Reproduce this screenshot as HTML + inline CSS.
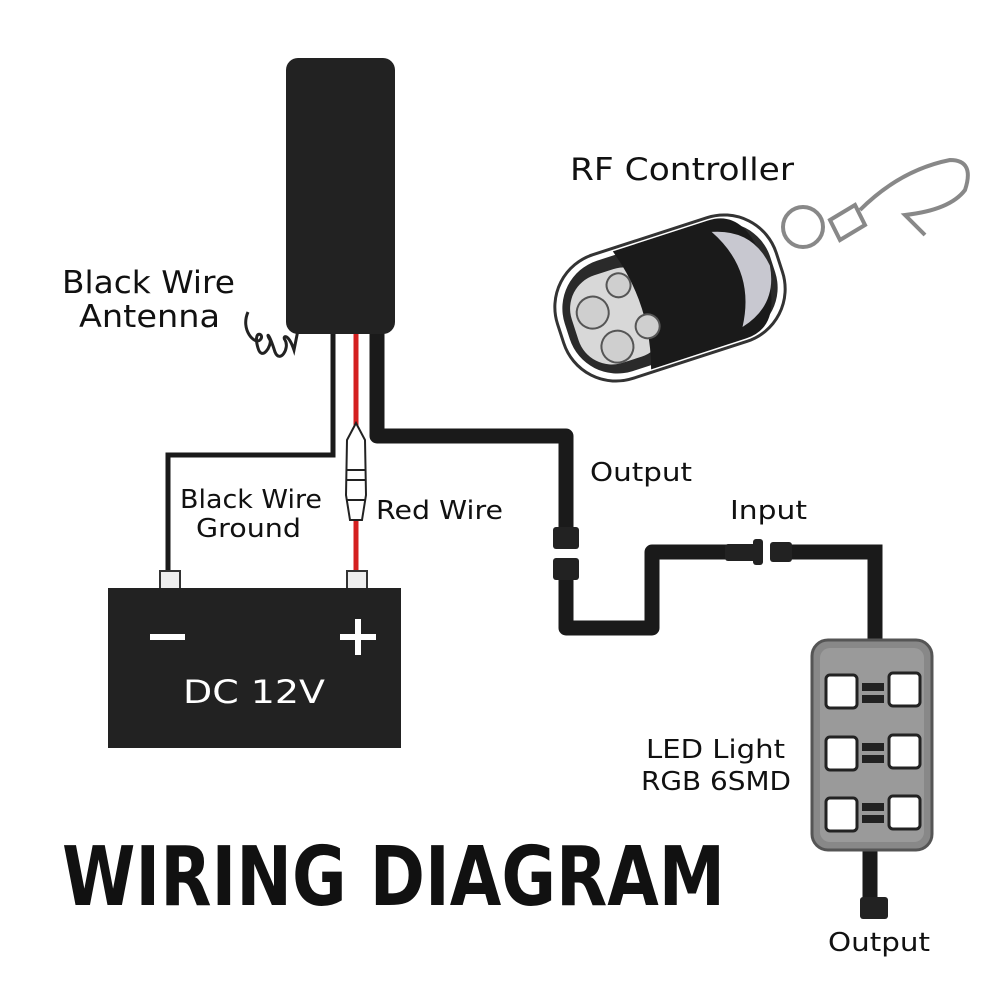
<!DOCTYPE html>
<html><head><style>html,body{margin:0;padding:0;background:#fff}svg{display:block}text{font-family:"DejaVu Sans","Liberation Sans",sans-serif}</style></head>
<body>
<svg width="1001" height="1001" viewBox="0 0 1001 1001" xmlns="http://www.w3.org/2000/svg">
<rect width="1001" height="1001" fill="#fff"/>
<!-- antenna coil -->
<path d="M248 312 C240 330,255 345,260 340 C266 334,252 328,258 348 C262 362,272 345,270 340 C266 334,268 330,275 352 C280 364,290 348,285 340 C282 336,288 332,294 350 L298 330" fill="none" stroke="#222" stroke-width="3"/>
<!-- ground wire -->
<path d="M333 330 V455 H168 V575" fill="none" stroke="#1a1a1a" stroke-width="5"/>
<!-- red wire -->
<path d="M356 330 V575" fill="none" stroke="#d42020" stroke-width="5"/>
<!-- fuse -->
<path d="M356 423 L347 440 L346 495 L350 520 L362 520 L366 495 L365 440 Z" fill="#fff" stroke="#222" stroke-width="2"/>
<line x1="346" y1="470" x2="366" y2="470" stroke="#222" stroke-width="2"/>
<line x1="346" y1="480" x2="366" y2="480" stroke="#222" stroke-width="2"/>
<line x1="347" y1="500" x2="365" y2="500" stroke="#222" stroke-width="2"/>
<!-- output cable -->
<path d="M377 330 V436 H566 V530" fill="none" stroke="#1a1a1a" stroke-width="15" stroke-linejoin="round"/>
<path d="M566 560 V628 H652 V552 H735" fill="none" stroke="#1a1a1a" stroke-width="15" stroke-linejoin="round"/>
<path d="M790 552 H875 V640" fill="none" stroke="#1a1a1a" stroke-width="15"/>
<rect x="553" y="527" width="26" height="22" rx="3" fill="#222"/>
<rect x="553" y="558" width="26" height="22" rx="3" fill="#222"/>
<rect x="725" y="544" width="32" height="17" rx="3" fill="#222"/>
<rect x="753" y="539" width="10" height="26" rx="3" fill="#222"/>
<rect x="770" y="542" width="22" height="20" rx="3" fill="#222"/>
<!-- controller box -->
<rect x="286" y="58" width="109" height="276" rx="12" fill="#222"/>
<!-- battery -->
<rect x="160" y="571" width="20" height="20" fill="#eee" stroke="#333" stroke-width="2"/>
<rect x="347" y="571" width="20" height="20" fill="#eee" stroke="#333" stroke-width="2"/>
<rect x="108" y="588" width="293" height="160" fill="#222"/>
<rect x="150" y="634" width="35" height="6" fill="#fff"/>
<rect x="340" y="634" width="36" height="6" fill="#fff"/>
<rect x="355" y="619" width="6" height="36" fill="#fff"/>
<text x="183" y="703" font-size="32" fill="#fff" textLength="142" lengthAdjust="spacingAndGlyphs">DC  12V</text>
<!-- LED module -->
<path d="M870 848 V900" stroke="#1a1a1a" stroke-width="15"/>
<rect x="860" y="897" width="28" height="22" rx="3" fill="#222"/>
<rect x="812" y="640" width="120" height="210" rx="16" fill="#888" stroke="#555" stroke-width="3"/>
<rect x="820" y="648" width="104" height="194" rx="10" fill="#9a9a9a"/>
<g fill="#fff" stroke="#222" stroke-width="3">
<rect x="826" y="675" width="31" height="33" rx="4"/><rect x="889" y="673" width="31" height="33" rx="4"/>
<rect x="826" y="737" width="31" height="33" rx="4"/><rect x="889" y="735" width="31" height="33" rx="4"/>
<rect x="826" y="798" width="31" height="33" rx="4"/><rect x="889" y="796" width="31" height="33" rx="4"/>
</g>
<g fill="#222">
<rect x="862" y="683" width="22" height="8"/><rect x="862" y="695" width="22" height="8"/>
<rect x="862" y="743" width="22" height="8"/><rect x="862" y="755" width="22" height="8"/>
<rect x="862" y="803" width="22" height="8"/><rect x="862" y="815" width="22" height="8"/>
</g>
<!-- remote -->
<g transform="translate(670,298) rotate(-18)">
<rect x="-115" y="-65" width="230" height="130" rx="55" fill="#fff" stroke="#333" stroke-width="3"/>
<rect x="-108" y="-58" width="216" height="116" rx="50" fill="#2a2a2a"/>
<rect x="-100" y="-45" width="90" height="92" rx="35" fill="#d8d8d8"/>
<path d="M-40 -62 H60 Q100 -62 100 0 Q100 62 60 62 H-40 Q-20 0 -40 -62 Z" fill="#1a1a1a"/>
<path d="M60 -50 Q100 -40 105 0 Q100 40 60 50 Q90 0 60 -50Z" fill="#c8c8d0"/>
<g fill="#cfcfcf" stroke="#555" stroke-width="2"><circle cx="-78" cy="-10" r="16"/><circle cx="-45" cy="-28" r="12"/><circle cx="-65" cy="30" r="16"/><circle cx="-30" cy="20" r="12"/></g>
</g>
<g fill="none" stroke="#888" stroke-width="4">
<circle cx="803" cy="227" r="20"/><path d="M830 220 L855 205 L865 225 L840 240Z"/>
<path d="M860 210 Q900 170 950 160 Q975 160 965 190 Q950 210 905 215 L925 235"/>
</g>
<!-- labels -->
<g font-size="31" fill="#111">
<text x="570" y="180" textLength="224" lengthAdjust="spacingAndGlyphs">RF Controller</text>
<text x="62" y="293" textLength="173" lengthAdjust="spacingAndGlyphs">Black Wire</text>
<text x="79" y="327" textLength="141" lengthAdjust="spacingAndGlyphs">Antenna</text>
</g>
<g font-size="26" fill="#111">
<text x="180" y="508" textLength="142" lengthAdjust="spacingAndGlyphs">Black Wire</text>
<text x="196" y="537" textLength="105" lengthAdjust="spacingAndGlyphs">Ground</text>
<text x="376" y="519" textLength="127" lengthAdjust="spacingAndGlyphs">Red Wire</text>
<text x="590" y="481" textLength="102" lengthAdjust="spacingAndGlyphs">Output</text>
<text x="730" y="519" textLength="77" lengthAdjust="spacingAndGlyphs">Input</text>
<text x="646" y="758" textLength="139" lengthAdjust="spacingAndGlyphs">LED Light</text>
<text x="641" y="790" textLength="150" lengthAdjust="spacingAndGlyphs">RGB 6SMD</text>
<text x="828" y="951" textLength="102" lengthAdjust="spacingAndGlyphs">Output</text>
</g>
<text x="62" y="905" font-size="82" font-weight="bold" fill="#111" font-family="Liberation Sans" textLength="663" lengthAdjust="spacingAndGlyphs">WIRING DIAGRAM</text>
</svg>
</body></html>
